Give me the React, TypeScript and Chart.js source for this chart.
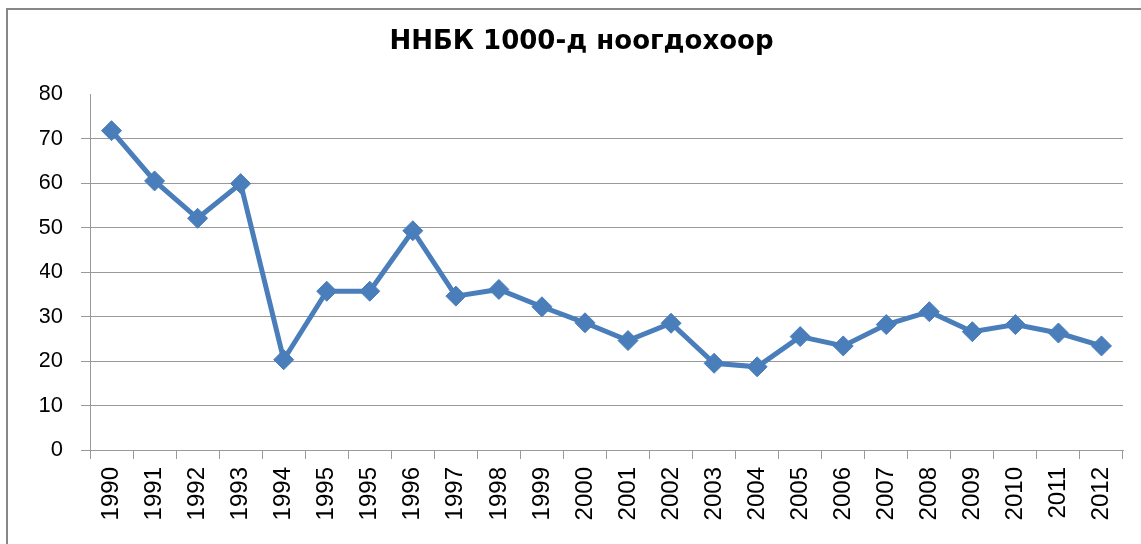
import React, { useEffect, useRef } from "react";
import { Chart, registerables } from "chart.js";

Chart.register(...registerables);

const TITLE = "ННБК 1000-д ноогдохоор";
const YEARS = ["1990", "1991", "1992", "1993", "1994", "1995", "1995", "1996", "1997", "1998", "1999", "2000", "2001", "2002", "2003", "2004", "2005", "2006", "2007", "2008", "2009", "2010", "2011", "2012"];
const VALUES = [71.8, 60.5, 52.1, 59.9, 20.3, 35.7, 35.7, 49.3, 34.6, 36.1, 32.2, 28.6, 24.6, 28.5, 19.5, 18.7, 25.5, 23.4, 28.2, 31.1, 26.6, 28.2, 26.3, 23.4];
const Y_TICKS = [0, 10, 20, 30, 40, 50, 60, 70, 80];

const FONT = "'Liberation Sans', Arial, sans-serif";
const TITLE_FONT = "'DejaVu Sans', 'Liberation Sans', sans-serif";
const BLUE = "#4a7ebb";
const GRID = "#9a9a9a";

const frame = {
  id: "frame",
  beforeDraw(chart: any) {
    const ctx = chart.ctx;
    ctx.save();
    ctx.fillStyle = "#ffffff";
    ctx.fillRect(0, 0, chart.width, chart.height);
    ctx.strokeStyle = "#878787";
    ctx.lineWidth = 2;
    ctx.strokeRect(7, 9, chart.width + 20, chart.height + 20);
    ctx.restore();
  },
};

export default function App() {
  const ref = useRef<HTMLCanvasElement | null>(null);
  useEffect(() => {
    if (!ref.current) return;
    const chart = new Chart(ref.current, {
      type: "line",
      data: {
        labels: YEARS,
        datasets: [
          {
            data: VALUES,
            borderColor: BLUE,
            backgroundColor: BLUE,
            borderWidth: 5,
            pointStyle: "rectRot",
            pointRadius: 10,
            pointBorderWidth: 1,
            pointBackgroundColor: BLUE,
            pointBorderColor: BLUE,
            tension: 0,
          },
        ],
      },
      options: {
        responsive: false,
        animation: false,
        layout: { padding: { left: 40, right: 18, top: 0, bottom: 0 } },
        plugins: {
          legend: { display: false },
          tooltip: { enabled: false },
          title: {
            display: true,
            text: TITLE,
            color: "#000",
            font: { family: TITLE_FONT, size: 26, weight: "bold", lineHeight: 1.2 },
            padding: { top: 27, bottom: 36 },
          },
        },
        scales: {
          x: {
            offset: true,
            grid: {
              offset: true,
              drawOnChartArea: false,
              drawTicks: true,
              tickLength: 9,
              color: GRID,
            },
            border: { color: GRID, width: 1 },
            ticks: {
              autoSkip: false,
              minRotation: 90,
              maxRotation: 90,
              padding: 8,
              color: "#000",
              font: { family: FONT, size: 24 },
            },
            afterFit(scale: any) {
              scale.height = 94;
            },
          },
          y: {
            min: 0,
            max: 80,
            afterBuildTicks(scale: any) {
              scale.ticks = Y_TICKS.map((v) => ({ value: v }));
            },
            grid: {
              color: (c: any) => (c.tick && c.tick.value === 80 ? "rgba(0,0,0,0)" : GRID),
              tickLength: 9,
              drawTicks: true,
            },
            border: { color: GRID, width: 1 },
            ticks: {
              padding: 18,
              color: "#000",
              font: { family: FONT, size: 22 },
            },
            afterFit(scale: any) {
              scale.width = 50;
            },
          },
        },
      },
      plugins: [frame],
    });
    return () => chart.destroy();
  }, []);
  return (
    <div style={{ position: "fixed", left: 0, top: 0, width: 1141, height: 544 }}>
      <canvas ref={ref} width={1141} height={544} style={{ width: 1141, height: 544 }} />
    </div>
  );
}
